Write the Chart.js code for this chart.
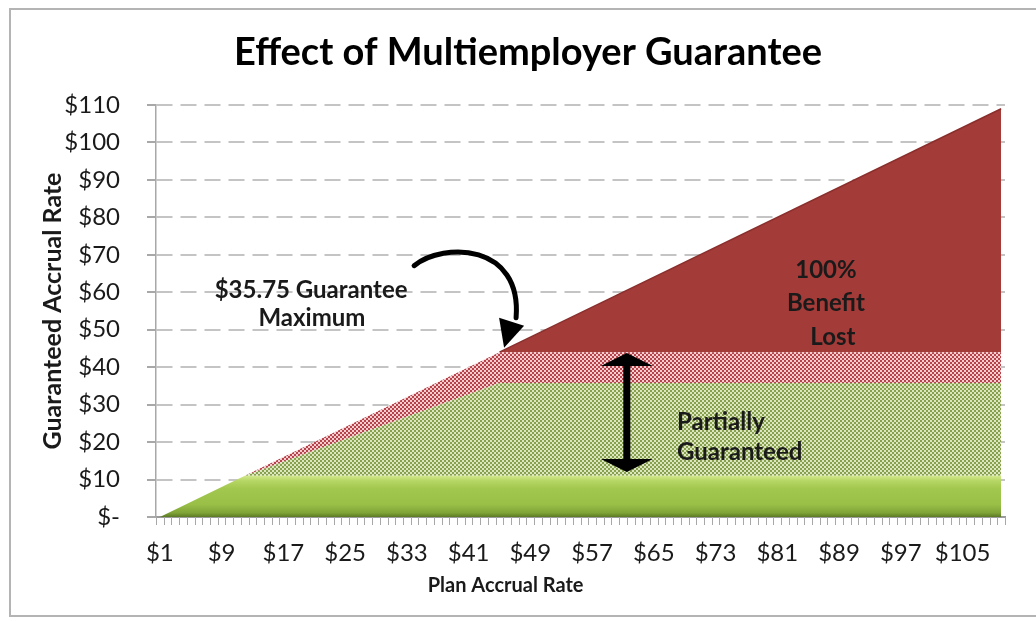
<!DOCTYPE html>
<html>
<head>
<meta charset="utf-8">
<script src="https://cdn.jsdelivr.net/npm/chart.js@4.4.1/dist/chart.umd.min.js"></script>
<style>
html,body{margin:0;padding:0;background:#ffffff;}
#wrap{position:relative;width:1036px;height:621px;}
</style>
</head>
<body>
<div id="wrap"><canvas id="c" width="1036" height="621"></canvas></div>
<script>
// ---- data ----
const planRates           = [1, 12, 45, 110];          // plan accrual rate at the break points
const fullyGuaranteed     = [0, 11, 11, 11];           // 100% guaranteed part
const partiallyGuaranteed = [0, 0, 24.75, 24.75];      // 75% of next $33
const partiallyLost       = [0, 0, 8.25, 8.25];        // 25% of next $33 lost
const fullyLost           = [0, 0, 0, 65];             // above $44: 100% lost
const xTickValues = [1, 9, 17, 25, 33, 41, 49, 57, 65, 73, 81, 89, 97, 105];
const yTickValues = [0, 10, 20, 30, 40, 50, 60, 70, 80, 90, 100, 110];
const titleText = 'Effect of Multiemployer Guarantee';
const xTitleText = 'Plan Accrual Rate';
const yTitleText = 'Guaranteed Accrual Rate';

Chart.defaults.font.family = 'Lato';
Chart.defaults.color = '#1a1a1a';

function makePattern(light, dark) {
  const c = document.createElement('canvas');
  c.width = 4; c.height = 4;
  const g = c.getContext('2d');
  g.fillStyle = light; g.fillRect(0, 0, 4, 4);
  g.fillStyle = dark; g.fillRect(0, 0, 2, 2); g.fillRect(2, 2, 2, 2);
  return g.createPattern(c, 'repeat');
}
const greenHatch = makePattern('#dce7bf', '#86a04e');
const redHatch = makePattern('#f1cdd0', '#b8424a');

function toPoints(arr) { return arr.map((v, i) => ({x: planRates[i], y: v})); }

function greenGradient(ctx) {
  const ch = ctx.chart;
  if (!ch.chartArea) return '#9bc24a';
  const ys = ch.scales.y;
  const top = ys.getPixelForValue(11), bot = ys.getPixelForValue(0);
  const g = ch.ctx.createLinearGradient(0, top, 0, bot);
  g.addColorStop(0, '#d3e88e');
  g.addColorStop(0.12, '#b6d665');
  g.addColorStop(0.3, '#a3c84f');
  g.addColorStop(0.7, '#99bf47');
  g.addColorStop(0.9, '#7fa337');
  g.addColorStop(1, '#5a7824');
  return g;
}

const frameAndAnnotations = {
  id: 'frameAndAnnotations',
  beforeDraw(chart) {
    const c = chart.ctx;
    c.save();
    c.fillStyle = '#ffffff';
    c.fillRect(0, 0, chart.width, chart.height);
    c.strokeStyle = '#b4b4b4';
    c.lineWidth = 2;
    c.strokeRect(10, 9, 1040, 607);
    // chart title
    c.fillStyle = '#000';
    c.font = 'bold 38px Lato';
    c.textAlign = 'center'; c.textBaseline = 'middle';
    c.fillText(titleText, 528, 53);
    c.restore();
  },
  afterDraw(chart) {
    const c = chart.ctx, xs = chart.scales.x, ys = chart.scales.y;
    const X = v => xs.getPixelForValue(v), Y = v => ys.getPixelForValue(v);
    c.save();
    // minor tick marks on the category axis
    c.strokeStyle = '#a8a8a8'; c.lineWidth = 1;
    for (let i = 0; i <= 110; i++) {
      const px = Math.round(X(0.5 + i)) + 0.5;
      c.beginPath(); c.moveTo(px, ys.bottom); c.lineTo(px, ys.bottom + 8); c.stroke();
    }
    // x axis title
    c.fillStyle = '#1a1a1a';
    c.font = 'bold 20px Lato';
    c.textAlign = 'center'; c.textBaseline = 'middle';
    c.fillText(xTitleText, X(45.8), 586);

    c.font = 'bold 24px Lato';
    // "$35.75 Guarantee Maximum"
    c.fillText('$35.75 Guarantee', X(20.6), Y(60.6));
    c.fillText('Maximum', X(20.7), Y(53.0));
    // "100% Benefit Lost"
    c.fillText('100%', X(87.3), Y(66));
    c.fillText('Benefit', X(87.3), Y(57.1));
    c.fillText('Lost', X(88.2), Y(48.1));
    // "Partially Guaranteed"
    c.textAlign = 'left';
    c.fillText('Partially', X(68), Y(25.4));
    c.fillText('Guaranteed', X(68), Y(17.4));

    // curved arrow pointing at the $35.75 maximum corner
    const tx = X(45.6), ty = Y(45.2);
    c.strokeStyle = '#000'; c.fillStyle = '#000';
    c.lineWidth = 5; c.lineCap = 'round';
    c.beginPath();
    c.moveTo(tx - 90, ty - 82);
    c.bezierCurveTo(tx - 60, ty - 106, tx + 18, ty - 104, tx + 12, ty - 30);
    c.stroke();
    c.beginPath();
    c.moveTo(tx, ty);
    c.lineTo(tx - 5, ty - 30);
    c.lineTo(tx + 20, ty - 22);
    c.closePath(); c.fill();

    // double-headed arrow across the partially guaranteed band
    const ax = X(61.5), y1 = Y(43.8), y2 = Y(12.0);
    c.lineWidth = 7; c.lineCap = 'butt';
    c.beginPath(); c.moveTo(ax, y1 + 10); c.lineTo(ax, y2 - 10); c.stroke();
    c.beginPath(); c.moveTo(ax, y1); c.lineTo(ax - 26, y1 + 13); c.lineTo(ax + 26, y1 + 13); c.closePath(); c.fill();
    c.beginPath(); c.moveTo(ax, y2); c.lineTo(ax - 26, y2 - 13); c.lineTo(ax + 26, y2 - 13); c.closePath(); c.fill();
    c.restore();
  }
};

new Chart(document.getElementById('c'), {
  type: 'line',
  data: {
    datasets: [
      {label: 'Fully guaranteed', data: toPoints(fullyGuaranteed), fill: 'origin', backgroundColor: greenGradient, borderWidth: 0},
      {label: 'Partially guaranteed', data: toPoints(partiallyGuaranteed), fill: '-1', backgroundColor: greenHatch, borderWidth: 0},
      {label: 'Partially lost', data: toPoints(partiallyLost), fill: '-1', backgroundColor: redHatch, borderWidth: 0},
      {label: 'Fully lost', data: toPoints(fullyLost), fill: '-1', backgroundColor: '#a33b38', borderWidth: 1.5,
       segment: {borderColor: s => s.p0DataIndex === 2 ? '#8a2e2c' : 'rgba(0,0,0,0)'}}
    ]
  },
  options: {
    responsive: false,
    animation: false,
    devicePixelRatio: 1,
    layout: {padding: {left: 0, right: 31, top: 105, bottom: 0}},
    elements: {point: {radius: 0, hoverRadius: 0}, line: {tension: 0}},
    plugins: {
      legend: {display: false},
      tooltip: {enabled: false},
      title: {display: false}
    },
    scales: {
      x: {
        type: 'linear', min: 0.5, max: 110.5,
        afterBuildTicks: s => { s.ticks = xTickValues.map(v => ({value: v})); },
        afterFit: s => { s.height = 104; },
        ticks: {autoSkip: false, maxRotation: 0, padding: 22, font: {size: 24}, color: '#1a1a1a', callback: v => '$' + v},
        grid: {display: false, drawTicks: false},
        border: {display: true, color: '#9a9a9a', width: 2}
      },
      y: {
        stacked: true, min: 0, max: 110,
        afterBuildTicks: s => { s.ticks = yTickValues.map(v => ({value: v})); },
        afterFit: s => { s.width = 156; },
        ticks: {padding: 27, font: {size: 24}, color: '#1a1a1a', callback: v => v === 0 ? '$-' : '$' + v},
        grid: {color: c => (c.tick && c.tick.value === 0) ? 'rgba(0,0,0,0)' : '#c4c4c4', lineWidth: 2, tickLength: 9, tickColor: '#a8a8a8'},
        border: {display: true, color: '#a8a8a8', width: 1.5, dash: [16, 8]},
        title: {display: true, text: yTitleText, color: '#1a1a1a', font: {size: 25, weight: 'bold'}, padding: {top: 38, bottom: 0}}
      }
    }
  },
  plugins: [frameAndAnnotations]
});
</script>
</body>
</html>
